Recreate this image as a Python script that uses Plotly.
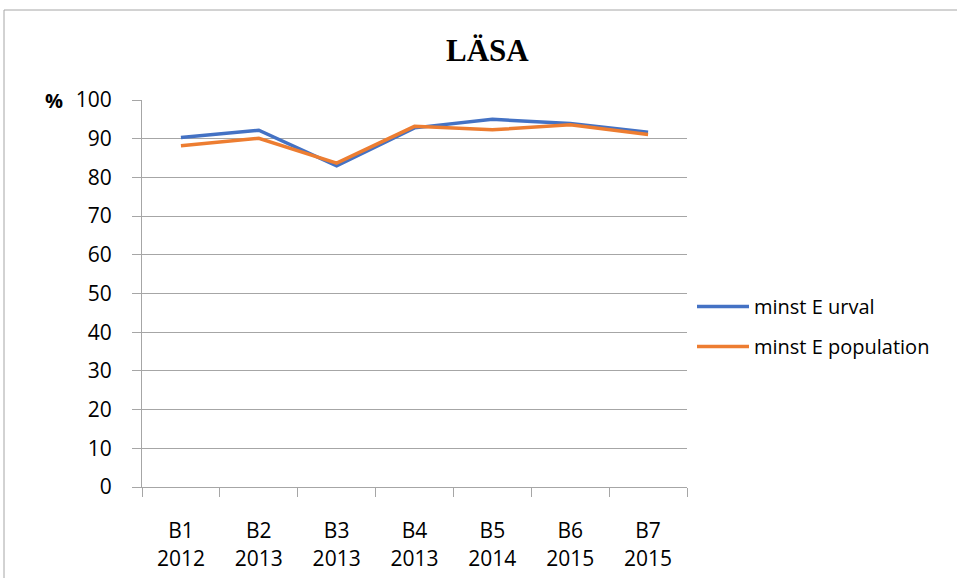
import plotly.graph_objects as go

categories = ["B1<br>2012", "B2<br>2013", "B3<br>2013", "B4<br>2013", "B5<br>2014", "B6<br>2015", "B7<br>2015"]
urval = [90.3, 92.2, 83.0, 92.8, 95.0, 93.9, 91.7]
population = [88.2, 90.1, 83.7, 93.2, 92.3, 93.6, 91.1]
series_names = ["minst E urval", "minst E population"]

W, H = 957, 578
L, R, T, B = 142, 687, 100, 487
pw, ph = R - L, B - T

def px(x):
    return (x - L) / pw

def py(y):
    return (B - y) / ph

fig = go.Figure()
fig.add_trace(go.Scatter(x=categories, y=urval, mode="lines", name=series_names[0],
                         line=dict(color="#4472C4", width=3.5), legendgroup="a"))
fig.add_trace(go.Scatter(x=categories, y=population, mode="lines", name=series_names[1],
                         line=dict(color="#ED7D31", width=3.5), legendgroup="b"))

font_main = "Open Sans, Liberation Sans, sans-serif"
gray = "#A6A6A6"

fig.update_layout(
    width=W, height=H,
    margin=dict(l=L, r=W - R, t=T, b=H - B, pad=0, autoexpand=False),
    paper_bgcolor="white", plot_bgcolor="white",
    font=dict(family=font_main, size=20, color="#000000"),
    showlegend=True,
    legend=dict(x=px(692), y=py(287), xanchor="left", yanchor="top",
                traceorder="grouped", tracegroupgap=11, itemwidth=52,
                font=dict(size=20, family=font_main), bgcolor="rgba(0,0,0,0)"),
    xaxis=dict(type="category", range=[-0.5, 6.5], automargin=False,
               showline=True, linecolor=gray, linewidth=1,
               ticks="outside", ticklen=9, tickcolor=gray,
               tickson="boundaries", showgrid=False,
               tickfont=dict(size=21), ticklabelstandoff=25, fixedrange=True),
    yaxis=dict(range=[0, 100], dtick=10, automargin=False,
               showline=True, linecolor=gray, linewidth=1,
               ticks="outside", ticklen=9, tickcolor=gray,
               showgrid=True, gridcolor=gray, gridwidth=1,
               tickfont=dict(size=21), ticklabelstandoff=16, zeroline=False),
    annotations=[
        dict(text="<b>LÄSA</b>", x=px(487), y=py(51), xref="paper", yref="paper",
             xanchor="center", yanchor="middle", showarrow=False,
             font=dict(family="Liberation Serif, Times New Roman, serif", size=31)),
        dict(text="<b>%</b>", x=px(54), y=py(101), xref="paper", yref="paper",
             xanchor="center", yanchor="middle", showarrow=False, font=dict(size=20)),
    ],
    shapes=[
        dict(type="line", xref="paper", yref="paper", x0=px(4), x1=px(957), y0=py(10), y1=py(10),
             line=dict(color=gray, width=1)),
        dict(type="line", xref="paper", yref="paper", x0=px(4), x1=px(4), y0=py(10), y1=py(578),
             line=dict(color=gray, width=1)),
    ],
)

fig.write_html("out.html", post_script="document.body.style.margin='0';",
               config={"displayModeBar": False})
